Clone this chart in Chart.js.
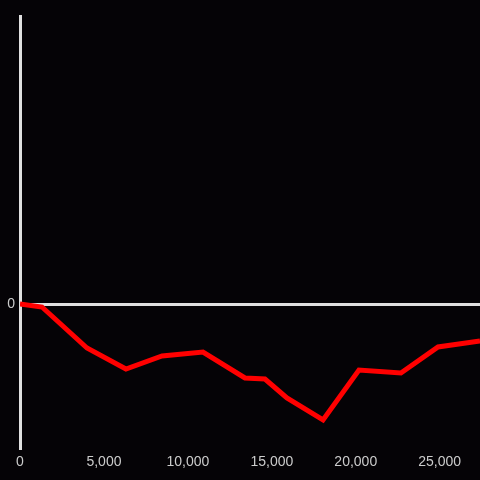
<!DOCTYPE html>
<html>
<head>
<meta charset="utf-8">
<script src="https://cdn.jsdelivr.net/npm/chart.js@4/dist/chart.umd.min.js"></script>
<style>
  html, body { margin: 0; padding: 0; background: #050306; }
  #wrap { width: 480px; height: 480px; }
</style>
</head>
<body>
<div id="wrap"><canvas id="c"></canvas></div>
<script>
"use strict";

// Data ----------------------------------------------------------------------
const xValues = [0, 1310, 3990, 6310, 8460, 10900, 13400, 14590, 15900, 18050, 20190, 22690, 24900, 27400];
const yValues = [0, -0.15, -2.2, -3.25, -2.6, -2.4, -3.7, -3.75, -4.7, -5.8, -3.3, -3.45, -2.15, -1.85];
const xTicks = [0, 5000, 10000, 15000, 20000, 25000];
const yTicks = [0];

const points = xValues.map((x, i) => ({ x, y: yValues[i] }));

// Chart ---------------------------------------------------------------------
const bgPlugin = {
  id: "bg",
  beforeDraw(chart) {
    const { ctx, width, height } = chart;
    ctx.save();
    ctx.fillStyle = "#050306";
    ctx.fillRect(0, 0, width, height);
    ctx.restore();
  },
};

new Chart(document.getElementById("c"), {
  type: "line",
  data: {
    datasets: [{
      data: points,
      borderColor: "#ff0000",
      borderWidth: 5,
      pointRadius: 0,
      tension: 0,
      fill: false,
    }],
  },
  options: {
    responsive: true,
    maintainAspectRatio: false,
    animation: false,
    layout: { padding: { top: 16, right: 0, left: 0, bottom: 0 } },
    plugins: { legend: { display: false }, tooltip: { enabled: false } },
    scales: {
      x: {
        type: "linear",
        min: 0,
        max: 27400,
        afterBuildTicks: (axis) => { axis.ticks = xTicks.map((v) => ({ value: v })); },
        afterFit: (axis) => { axis.height = 32; },
        grid: { display: false, drawTicks: false },
        border: { display: false },
        ticks: {
          color: "#cccccc",
          font: { family: "Liberation Sans", size: 14 },
          padding: 6,
          maxRotation: 0,
          callback: (v) => v.toLocaleString("en-US"),
        },
      },
      y: {
        min: -7.2,
        max: 14.4,
        afterBuildTicks: (axis) => { axis.ticks = yTicks.map((v) => ({ value: v })); },
        afterFit: (axis) => { axis.width = 20; },
        grid: { color: "#e0e0e0", lineWidth: 3, drawTicks: false },
        border: { display: true, color: "#e0e0e0", width: 3 },
        ticks: {
          color: "#cccccc",
          font: { family: "Liberation Sans", size: 14 },
          padding: 5,
        },
      },
    },
  },
  plugins: [bgPlugin],
});
</script>
</body>
</html>
